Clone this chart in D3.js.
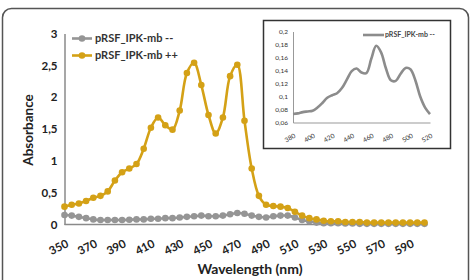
<!DOCTYPE html>
<html>
<head>
<meta charset="utf-8">
<script src="https://cdn.jsdelivr.net/npm/d3@7"></script>
<style>
  body { margin: 0; background: #fff; }
  text { font-family: Lato, "Open Sans", sans-serif; }
</style>
</head>
<body>
<svg width="473" height="280"></svg>
<script>
// wavelengths 350..600 every 5 nm
const wavelengths = d3.range(350, 601, 5);

const absMinus = [0.15, 0.14, 0.12, 0.10, 0.08, 0.07, 0.07, 0.07, 0.07, 0.075, 0.08,
  0.08, 0.09, 0.09, 0.10, 0.10, 0.11, 0.12, 0.13, 0.14, 0.13, 0.13, 0.14, 0.16, 0.18,
  0.17, 0.14, 0.12, 0.11, 0.13, 0.14, 0.14, 0.11, 0.07, 0.05, 0.03, 0.02, 0.02, 0.02,
  0.015, 0.015, 0.01, 0.01, 0.01, 0.01, 0.01, 0.01, 0.01, 0.01, 0.01, 0.01];

const absPlus = [0.28, 0.31, 0.33, 0.37, 0.42, 0.45, 0.52, 0.69, 0.82, 0.88, 0.95,
  1.19, 1.52, 1.68, 1.56, 1.49, 1.79, 2.38, 2.54, 2.19, 1.72, 1.43, 1.68, 2.33, 2.51,
  1.63, 0.88, 0.45, 0.31, 0.29, 0.28, 0.26, 0.20, 0.14, 0.10, 0.08, 0.06, 0.05, 0.05,
  0.04, 0.04, 0.04, 0.03, 0.03, 0.03, 0.03, 0.03, 0.03, 0.03, 0.03, 0.03];

const xTicks = d3.range(350, 591, 20);
const yTicks = [0, 0.5, 1, 1.5, 2, 2.5, 3];

// inset (zoom on the -- sample)
const insetWl = d3.range(380, 521, 5);
const insetAbs = [0.073, 0.074, 0.076, 0.077, 0.078, 0.083, 0.090, 0.098, 0.102, 0.105,
  0.113, 0.126, 0.139, 0.143, 0.137, 0.136, 0.158, 0.178, 0.168, 0.143, 0.125, 0.124,
  0.135, 0.144, 0.142, 0.125, 0.100, 0.083, 0.073];
const insetXTicks = d3.range(380, 521, 20);
const insetYTicks = [0.06, 0.08, 0.1, 0.12, 0.14, 0.16, 0.18, 0.2];

const series = [
  {name: "pRSF_IPK-mb --", values: absMinus, color: "#959595"},
  {name: "pRSF_IPK-mb ++", values: absPlus, color: "#d4a116"}
];

const comma = d => String(d).replace(".", ",");

const svg = d3.select("svg");

// outer frame
svg.append("rect")
    .attr("x", 2.5).attr("y", 8.5)
    .attr("width", 466).attr("height", 300)
    .attr("rx", 9)
    .attr("fill", "none").attr("stroke", "#555").attr("stroke-width", 1.5);

const x = d3.scaleLinear().domain([350, 600]).range([64.5, 424.5]);
const y = d3.scaleLinear().domain([0, 3]).range([224.5, 33.5]);

// axes
const yAxis = svg.append("g")
    .attr("transform", "translate(64.5,0)")
    .call(d3.axisLeft(y).tickValues(yTicks).tickSize(0).tickPadding(7).tickFormat(comma));
yAxis.select(".domain").attr("stroke", "#8a8a8a").attr("stroke-width", 1.5);
yAxis.selectAll("text")
    .attr("font-size", 11.5).attr("font-weight", "bold").attr("fill", "#222");

const xAxis = svg.append("g")
    .attr("transform", "translate(0,224.5)")
    .call(d3.axisBottom(x).tickValues(xTicks).tickSize(0).tickFormat(d3.format("d")));
xAxis.select(".domain").attr("stroke", "#8a8a8a").attr("stroke-width", 1.5)
    .attr("d", `M${x(350)},0H${x(600) + 3}`);
xAxis.selectAll("text")
    .attr("font-size", 11.5).attr("font-weight", "bold").attr("fill", "#222")
    .attr("text-anchor", "end")
    .attr("dy", 0)
    .attr("transform", "translate(3,19) rotate(-27)");

// titles
svg.append("text")
    .attr("transform", "translate(33,130) rotate(-90)")
    .attr("text-anchor", "middle")
    .attr("font-size", 13.5).attr("font-weight", "bold").attr("fill", "#222")
    .text("Absorbance");

svg.append("text")
    .attr("x", 250).attr("y", 274)
    .attr("text-anchor", "middle")
    .attr("font-size", 14).attr("font-weight", "bold").attr("fill", "#222")
    .text("Wavelength (nm)");

// lines + markers
const line = d3.line()
    .x((d, i) => x(wavelengths[i]))
    .y(d => y(d))
    .curve(d3.curveCatmullRom.alpha(0.5));

series.forEach(s => {
  svg.append("path")
      .datum(s.values)
      .attr("fill", "none")
      .attr("stroke", s.color)
      .attr("stroke-width", 2.6)
      .attr("d", line);
  svg.append("g").selectAll("circle")
      .data(s.values)
      .enter().append("circle")
      .attr("cx", (d, i) => x(wavelengths[i]))
      .attr("cy", d => y(d))
      .attr("r", 3.3)
      .attr("fill", s.color);
});

// legend
const legend = svg.append("g").selectAll("g")
    .data(series)
    .enter().append("g")
    .attr("transform", (d, i) => `translate(72,${38.5 + i * 17})`);
legend.append("line")
    .attr("x1", 0).attr("x2", 20)
    .attr("stroke", d => d.color).attr("stroke-width", 2.6);
legend.append("circle")
    .attr("cx", 10).attr("r", 3.3).attr("fill", d => d.color);
legend.append("text")
    .attr("x", 23).attr("dy", "0.35em")
    .attr("font-size", 11).attr("font-weight", "bold").attr("fill", "#333")
    .text(d => d.name);

// inset
svg.append("rect")
    .attr("x", 263.5).attr("y", 20.5)
    .attr("width", 187).attr("height", 128)
    .attr("fill", "#fff").attr("stroke", "#333").attr("stroke-width", 1.5);

const ix = d3.scaleLinear().domain([380, 520]).range([293, 430]);
const iy = d3.scaleLinear().domain([0.06, 0.2]).range([122.5, 31.5]);

const iyAxis = svg.append("g")
    .attr("transform", "translate(293,0)")
    .call(d3.axisLeft(iy).tickValues(insetYTicks).tickSize(0).tickPadding(5)
      .tickFormat(d => comma(+d.toFixed(2))));
iyAxis.select(".domain").attr("stroke", "#999").attr("stroke-width", 1);
iyAxis.selectAll("text").attr("font-size", 6.5).attr("fill", "#333");

const ixAxis = svg.append("g")
    .attr("transform", "translate(0,122.5)")
    .call(d3.axisBottom(ix).tickValues(insetXTicks).tickSize(0).tickFormat(d3.format("d")));
ixAxis.select(".domain").attr("stroke", "#999").attr("stroke-width", 1);
ixAxis.selectAll("text")
    .attr("font-size", 6.5).attr("fill", "#333")
    .attr("text-anchor", "end").attr("dy", 0)
    .attr("transform", "translate(1,12) rotate(-30)");

svg.append("path")
    .datum(insetAbs)
    .attr("fill", "none")
    .attr("stroke", "#8c8c8c")
    .attr("stroke-width", 2.6)
    .attr("d", d3.line()
      .x((d, i) => ix(insetWl[i]))
      .y(d => iy(d))
      .curve(d3.curveCatmullRom.alpha(0.5)));

svg.append("line")
    .attr("x1", 363).attr("x2", 384).attr("y1", 35).attr("y2", 35)
    .attr("stroke", "#8c8c8c").attr("stroke-width", 2.6);
svg.append("text")
    .attr("x", 385).attr("y", 35).attr("dy", "0.35em")
    .attr("font-size", 7).attr("font-weight", "bold").attr("fill", "#444")
    .text("pRSF_IPK-mb --");
</script>
</body>
</html>
